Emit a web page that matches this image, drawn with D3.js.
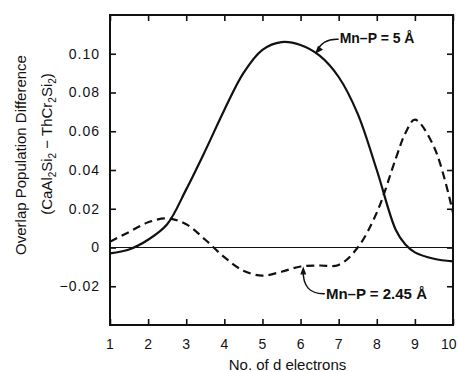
<!DOCTYPE html>
<html>
<head>
<meta charset="utf-8">
<script src="https://cdn.jsdelivr.net/npm/d3@7"></script>
<style>
  body { margin: 0; background: #fff; }
  svg { display: block; }
  text { font-family: "Liberation Sans", Arial, sans-serif; fill: #111; }
</style>
</head>
<body>
<div id="chart"></div>
<script>
// values
var electrons = [1, 1.5, 2, 2.5, 3, 3.5, 4, 4.5, 5, 5.5, 6, 6.5, 7, 7.5, 8, 8.5, 8.75, 9, 9.5, 10];
var long5 = [-0.003, -0.001, 0.004, 0.012, 0.030, 0.050, 0.071, 0.090, 0.102, 0.106, 0.1045, 0.099, 0.088, 0.069, 0.040, 0.009, 0.0015, -0.0025, -0.0058, -0.0072];
var short245 = [0.003, 0.008, 0.013, 0.015, 0.012, 0.004, -0.005, -0.012, -0.0145, -0.0125, -0.0098, -0.0093, -0.009, 0.000, 0.018, 0.046, 0.059, 0.066, 0.052, 0.018];
var xTicks = [1, 2, 3, 4, 5, 6, 7, 8, 9, 10];
var yTicks = [-0.02, 0, 0.02, 0.04, 0.06, 0.08, 0.10];

var width = 458, height = 372;
var margin = { top: 15, right: 5, bottom: 47, left: 110 };
var innerWidth = width - margin.left - margin.right;
var innerHeight = height - margin.top - margin.bottom;

var svg = d3.select("#chart").append("svg").attr("width", width).attr("height", height);
var g = svg.append("g").attr("transform", "translate(" + margin.left + "," + margin.top + ")");

var xScale = d3.scaleLinear().domain([1, 10]).range([0, innerWidth]);
var yScale = d3.scaleLinear().domain([-0.04, 0.12]).range([innerHeight, 0]);

var fmtY = function (d) { return d === 0 ? "0" : d3.format(".2f")(d).replace("-", "\u2212"); };

// axes, ticks pointing inward on all four sides
var bottomAxis = d3.axisBottom(xScale).tickValues(xTicks).tickSize(-6).tickPadding(14).tickFormat(d3.format("d"));
var topAxis = d3.axisTop(xScale).tickValues(xTicks).tickSize(-6);
var leftAxis = d3.axisLeft(yScale).tickValues(yTicks).tickSize(-6).tickPadding(10).tickFormat(fmtY);
var rightAxis = d3.axisRight(yScale).tickValues(yTicks).tickSize(-6);

function styleAxis(sel) {
  sel.selectAll(".domain").remove();
  sel.selectAll(".tick line").attr("stroke", "#111").attr("stroke-width", 1.6);
  sel.selectAll(".tick text").style("font-size", "14px").style("letter-spacing", "1px").attr("fill", "#111");
}

var xAxisG = g.append("g").attr("transform", "translate(0," + innerHeight + ")").call(bottomAxis).call(styleAxis);
xAxisG.selectAll(".tick text").filter(function (d) { return d === 10; })
  .attr("text-anchor", "end").attr("dx", 3).style("letter-spacing", "0px");
g.append("g").call(topAxis).call(styleAxis).selectAll(".tick text").remove();
g.append("g").call(leftAxis).call(styleAxis);
g.append("g").attr("transform", "translate(" + innerWidth + ",0)").call(rightAxis).call(styleAxis)
  .selectAll(".tick text").remove();

// frame
g.append("rect").attr("x", 0).attr("y", 0).attr("width", innerWidth).attr("height", innerHeight)
  .attr("fill", "none").attr("stroke", "#111").attr("stroke-width", 2);

// zero line
g.append("line").attr("x1", 0).attr("x2", innerWidth).attr("y1", yScale(0)).attr("y2", yScale(0))
  .attr("stroke", "#111").attr("stroke-width", 1);

var line = d3.line()
  .x(function (d) { return xScale(d[0]); })
  .y(function (d) { return yScale(d[1]); })
  .curve(d3.curveCatmullRom.alpha(0.5));

g.append("path").datum(d3.zip(electrons, long5)).attr("d", line)
  .attr("fill", "none").attr("stroke", "#111").attr("stroke-width", 2.2);

g.append("path").datum(d3.zip(electrons, short245)).attr("d", line)
  .attr("fill", "none").attr("stroke", "#111").attr("stroke-width", 2.2).attr("stroke-dasharray", "8,5");

// labels with leader arrows
var lbl1 = { x: 6.38, y: 0.1005, tx: 7.0, ty: 0.1054 };
var a1x = xScale(lbl1.x), a1y = yScale(lbl1.y), t1x = xScale(lbl1.tx), t1y = yScale(lbl1.ty);
g.append("path")
  .attr("d", "M" + t1x + "," + (t1y - 4) + " Q" + (a1x + 8) + "," + (t1y - 5) + " " + (a1x + 2) + "," + (a1y - 2))
  .attr("fill", "none").attr("stroke", "#111").attr("stroke-width", 1.4);
g.append("path")
  .attr("d", "M" + a1x + "," + (a1y + 1) + " l3,-8 l5,4 z")
  .attr("fill", "#111");
g.append("text").attr("x", t1x + 1).attr("y", t1y)
  .style("font-size", "14px").style("font-weight", "bold").text("Mn\u2013P = 5 \u00c5");

var lbl2 = { x: 6.07, y: -0.0093, tx: 6.64, ty: -0.0264 };
var a2x = xScale(lbl2.x), a2y = yScale(lbl2.y), t2x = xScale(lbl2.tx), t2y = yScale(lbl2.ty);
g.append("path")
  .attr("d", "M" + t2x + "," + (t2y - 5) + " Q" + (a2x - 1) + "," + (t2y - 4) + " " + a2x + "," + (a2y + 4))
  .attr("fill", "none").attr("stroke", "#111").attr("stroke-width", 1.4);
g.append("path")
  .attr("d", "M" + a2x + "," + (a2y + 1) + " l-3,8 l6,0 z")
  .attr("fill", "#111");
g.append("text").attr("x", t2x + 1).attr("y", t2y)
  .style("font-size", "15px").style("font-weight", "bold").text("Mn\u2013P = 2.45 \u00c5");

// axis titles
g.append("text").attr("x", innerWidth / 2 + 6).attr("y", innerHeight + 45)
  .attr("text-anchor", "middle").style("font-size", "15px").text("No. of d electrons");

svg.append("text").attr("transform", "translate(26,155) rotate(-90)")
  .attr("text-anchor", "middle").style("font-size", "15px")
  .text("Overlap Population Difference");
var t2 = svg.append("text").attr("transform", "translate(52,144) rotate(-90)")
  .attr("text-anchor", "middle").style("font-size", "15px");
[["(CaAl", 0], ["2", 1], ["Si", -1], ["2", 1], [" \u2212 ThCr", -1], ["2", 1], ["Si", -1], ["2", 1], [")", -1]]
  .forEach(function (p) {
    var ts = t2.append("tspan").attr("dy", p[1] * 4).text(p[0]);
    if (p[1] === 1) ts.style("font-size", "10px");
  });
</script>
</body>
</html>
